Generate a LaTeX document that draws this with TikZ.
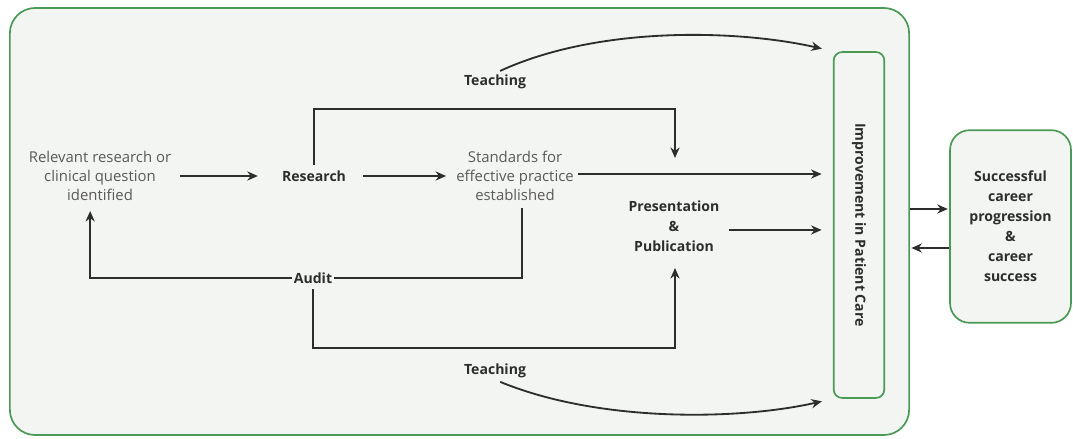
\documentclass[tikz,border=0pt]{standalone}
\usepackage{fontspec}
\setmainfont{Open Sans}
\usetikzlibrary{arrows.meta}
\definecolor{boxgreen}{RGB}{74,154,86}
\definecolor{panelfill}{RGB}{243,245,242}
\definecolor{textgrey}{RGB}{90,90,90}
\definecolor{textdark}{RGB}{45,45,45}

\begin{document}
\begin{tikzpicture}[
		x=0.025cm, y=-0.025cm,
		every node/.style={font=\fontsize{10.6}{13.6}\selectfont, align=center, inner sep=1pt},
		plain/.style={text=textgrey},
		heavy/.style={text=textdark, font=\fontsize{10}{14.2}\selectfont\bfseries},
		flow/.style={line width=1.3pt, draw=textdark, -{Stealth[length=7.5pt,width=6.5pt]}},
		link/.style={line width=1.3pt, draw=textdark},
		panelbox/.style={draw=boxgreen, line width=1.2pt, fill=panelfill}
		]
		\useasboundingbox (0,0) rectangle (1073,439);
		
		% Boxes
		\node[panelbox, rounded corners=18pt, minimum width=639.5pt, minimum height=303.7pt] (panel) at (459.5,221.5) {};
		\node[panelbox, rounded corners=6pt, minimum width=36pt, minimum height=246pt] (care) at (859,225) {};
		\node[heavy, rotate=-90] (caretext) at (care.center) {Improvement in Patient Care};
		\node[panelbox, heavy, rounded corners=14pt, minimum width=86pt, minimum height=137pt] (career) at (1010.5,226.5) {Successful\\career\\progression\\\&\\career\\success};
		
		% Stages
		\node[plain] (question) at (100,176) {Relevant research or\\clinical question\\identified};
		\node[heavy] (research) at (314,176) {Research};
		\node[plain] (standards) at (515,176) {Standards for\\effective practice\\established};
		\node[heavy] (present) at (674,226) {Presentation\\\&\\Publication};
		\node[heavy] (audit) at (313,278) {Audit};
		\node[heavy] (teachtop) at (495,82) {Teaching};
		\node[heavy] (teachlow) at (495,371) {Teaching};
		
		% Arrow ends at Presentation
		\coordinate (pubtop) at (675,158);
		\coordinate (pubfoot) at (675,268);
		
		% Main row
		\draw[flow, shorten <=5pt, shorten >=16pt] (question.east) -- (research.west);
		\draw[flow, shorten <=11pt, shorten >=6pt] (research.east) -- (standards.west);
		\draw[flow, shorten <=2pt, shorten >=8pt] ([yshift=1.4pt]standards.east) -- ([yshift=1.4pt]standards.east -| care.west);
		\draw[flow, shorten <=6pt, shorten >=8pt] ([yshift=-2.8pt]present.east) -- ([yshift=-2.8pt]present.east -| care.west);
		
		% Research and audit loops
		\draw[flow, shorten <=3pt] (research.north) -- ++(0,-60) -| (pubtop);
		\draw[link, shorten <=4pt] ([xshift=5pt]standards.south) |- (audit.east);
		\draw[flow, shorten >=6pt] (audit.west) -| ([xshift=-7pt]question.south);
		\draw[flow, shorten <=3pt] (audit.south) -- ++(0,63) -| (pubfoot);
		
		% Teaching curves
		\draw[flow, shorten <=4pt, shorten >=8pt] (teachtop.north) .. controls (600,25) and (740,30) .. (care.north west);
		\draw[flow, shorten <=4pt, shorten >=8pt] (teachlow.south) .. controls (600,423) and (740,420) .. (care.south west);
		
		% Career links
		\draw[flow, shorten >=1pt] (panel.east |- 0,209) -- (career.west |- 0,209);
		\draw[flow, shorten >=1pt] (career.west |- 0,248) -- (panel.east |- 0,248);
\end{tikzpicture}
\end{document}
